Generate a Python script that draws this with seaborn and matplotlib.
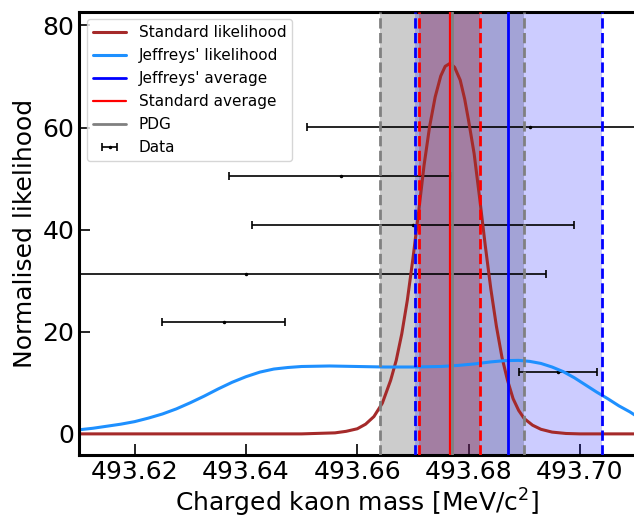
import matplotlib
matplotlib.use("Agg")
import matplotlib.pyplot as plt
import pandas as pd
import seaborn as sns

sns.set_theme(style="white", rc={"text.color": "black", "axes.labelcolor": "black",
                                 "xtick.color": "black", "ytick.color": "black"})
plt.rcParams['font.family'] = ['DejaVu Sans']

# likelihood curves
std_mass = [493.6100, 493.6500, 493.6560, 493.6580, 493.6600, 493.6615, 493.6630, 493.6645,
            493.6660, 493.6670, 493.6680, 493.6690, 493.6700, 493.6710, 493.6720, 493.6730,
            493.6740, 493.6750, 493.6758, 493.6767, 493.6775, 493.6785, 493.6793, 493.6800,
            493.6810, 493.6820, 493.6830, 493.6840, 493.6850, 493.6860, 493.6870, 493.6880,
            493.6890, 493.6900, 493.6915, 493.6930, 493.6950, 493.6975, 493.7000, 493.7100]
std_like = [0.0, 0.0, 0.2, 0.5, 1.0, 1.9, 3.4, 6.0,
            10.5, 14.4, 19.6, 26.2, 34.3, 43.2, 52.6, 60.2,
            66.0, 70.1, 72.0, 72.6, 71.8, 69.3, 65.6, 61.4,
            54.9, 46.1, 36.9, 28.4, 21.1, 15.0, 10.5, 6.9,
            4.6, 3.0, 1.7, 0.9, 0.35, 0.08, 0.0, 0.0]

jef_mass = [493.6100, 493.6125, 493.6150, 493.6175, 493.6200, 493.6225, 493.6250, 493.6275,
            493.6300, 493.6325, 493.6350, 493.6375, 493.6400, 493.6425, 493.6450, 493.6475,
            493.6500, 493.6550, 493.6600, 493.6650, 493.6700, 493.6750, 493.6780, 493.6810,
            493.6840, 493.6865, 493.6890, 493.6910, 493.6930, 493.6950, 493.6970, 493.6990,
            493.7010, 493.7030, 493.7050, 493.7070, 493.7090, 493.7100]
jef_like = [0.8, 1.1, 1.5, 1.9, 2.4, 3.1, 3.9, 4.9,
            6.1, 7.4, 8.8, 10.1, 11.2, 12.1, 12.7, 13.0,
            13.2, 13.3, 13.2, 13.1, 13.1, 13.2, 13.4, 13.7,
            14.1, 14.35, 14.4, 14.2, 13.8, 13.1, 12.2, 11.0,
            9.6, 8.2, 6.9, 5.5, 4.3, 3.6]

# measurements
data_mass = [493.696, 493.636, 493.640, 493.670, 493.657, 493.691]
data_err = [0.007, 0.011, 0.054, 0.029, 0.020, 0.040]
data_y = [12.2, 21.9, 31.4, 41.0, 50.6, 60.2]

# averages
pdg_mass, pdg_err = 493.677, 0.013
std_avg, std_err = 493.6766, 0.0055
jef_avg, jef_err = 493.6871, 0.0168

x_ticks = [493.62, 493.64, 493.66, 493.68, 493.70]
y_ticks = [0, 20, 40, 60, 80]

fig = plt.figure(figsize=(6.34, 5.18), dpi=100)
ax = fig.add_axes([0.1246, 0.121, 0.8778, 0.8564])

# bands
ax.axvspan(pdg_mass - pdg_err, pdg_mass + pdg_err, color="gray", alpha=0.4, lw=0, zorder=0.5)
ax.axvspan(jef_avg - jef_err, jef_avg + jef_err, color="blue", alpha=0.2, lw=0, zorder=0.6)
ax.axvspan(std_avg - std_err, std_avg + std_err, color="brown", alpha=0.3, lw=0, zorder=0.7)

df_std = pd.DataFrame({"mass": std_mass, "like": std_like})
df_jef = pd.DataFrame({"mass": jef_mass, "like": jef_like})
sns.lineplot(data=df_std, x="mass", y="like", color="brown", lw=2.2, ax=ax,
             label="Standard likelihood", zorder=2)
sns.lineplot(data=df_jef, x="mass", y="like", color="dodgerblue", lw=2.2, ax=ax,
             label="Jeffreys' likelihood", zorder=2)

ax.axvline(jef_avg, color="blue", lw=2, label="Jeffreys' average", zorder=3)
ax.axvline(jef_avg - jef_err, color="blue", lw=2, ls="--", zorder=3)
ax.axvline(jef_avg + jef_err, color="blue", lw=2, ls="--", zorder=3)
ax.axvline(std_avg, color="red", lw=1.6, label="Standard average", zorder=3)
ax.axvline(std_avg - std_err, color="red", lw=2, ls="--", zorder=3)
ax.axvline(std_avg + std_err, color="red", lw=2, ls="--", zorder=3)
ax.axvline(pdg_mass, color="gray", lw=2, label="PDG", zorder=3)
ax.axvline(pdg_mass - pdg_err, color="gray", lw=2, ls="--", zorder=3)
ax.axvline(pdg_mass + pdg_err, color="gray", lw=2, ls="--", zorder=3)

ax.errorbar(data_mass, data_y, xerr=data_err, fmt=".", color="black", ms=3,
            elinewidth=1.2, capsize=3, capthick=1.2, label="Data", zorder=1.5)

ax.set_xlim(493.61, 493.71)
ax.set_ylim(-4.2, 82.7)
ax.set_xticks(x_ticks)
ax.set_xticklabels([f"{t:.2f}" for t in x_ticks])
ax.set_yticks(y_ticks)
ax.tick_params(direction="in", length=8, width=1.2, labelsize=18, bottom=True, left=True)
for s in ax.spines.values():
    s.set_linewidth(2.2)
    s.set_color("black")

ax.set_xlabel("Charged kaon mass [MeV/c$^2$]", fontsize=18, labelpad=2)
ax.set_ylabel("Normalised likelihood", fontsize=18)

ax.legend(loc="upper left", fontsize=11, labelspacing=0.52, handlelength=2.2)

fig.savefig("out.png", dpi=100)
